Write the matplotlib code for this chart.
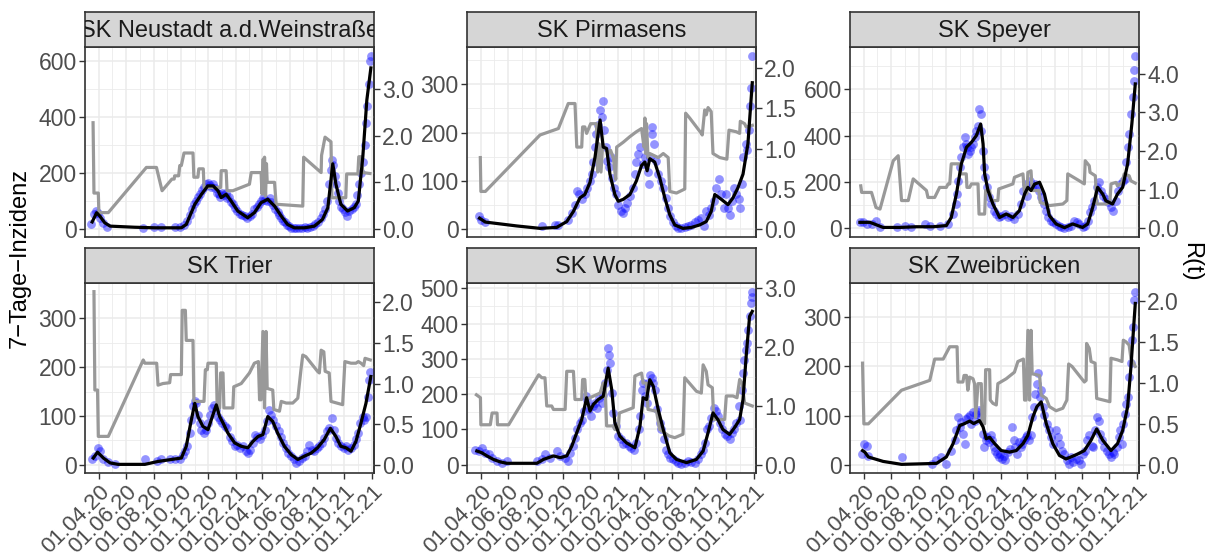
import numpy as np
import matplotlib
matplotlib.use("Agg")
import matplotlib.pyplot as plt
import matplotlib.dates as mdates
from matplotlib.ticker import FixedLocator, AutoMinorLocator, FuncFormatter

plt.rcParams['font.family'] = ['Liberation Sans', 'DejaVu Sans']

# x = Tage ab 01.03.2020; Punkte/Linie = 7-Tage-Inzidenz, r = R(t)
K = 500 / 3  # R(t) * K -> Inzidenz-Achse

titles = ["SK Neustadt a.d.Weinstraße", "SK Pirmasens", "SK Speyer",
          "SK Trier", "SK Worms", "SK Zweibrücken"]

neustadt_pts = [(14,16),(20,52),(24,64),(28,58),(33,40),(40,22),(48,8),
    (130,4),(155,6),(170,8),(200,8),(212,6),
    (222,14),(228,30),(234,50),(238,70),(243,90),(248,100),(252,115),(257,125),(262,140),(266,150),
    (270,160),(274,165),(278,158),(282,150),(286,160),(290,145),(294,130),(298,125),(302,115),(306,130),
    (310,120),(314,128),(318,110),(322,115),(326,95),(330,90),(335,75),(340,65),(345,55),(350,50),
    (356,45),(362,40),(368,45),(372,55),(378,70),(383,80),(388,90),(392,100),(397,110),(402,105),
    (407,100),(412,110),(416,95),(420,85),(425,70),(430,60),(434,50),(438,40),(442,30),(446,25),
    (450,15),(455,10),(460,5),(466,3),(472,5),(478,2),(485,4),(490,6),(496,4),(502,6),(508,12),
    (514,18),(520,26),(526,40),(531,55),(536,70),(541,100),(545,160),(548,210),(551,245),(554,230),
    (557,190),(560,160),(564,130),(568,100),(572,80),(576,70),(580,60),(585,45),(590,65),(595,70),
    (600,80),(604,90),(608,120),(612,160),(616,200),(620,240),(624,300),(627,380),(630,440),(633,520),
    (636,600),(638,620)]
neustadt_line = [(16,25),(26,58),(33,46),(44,22),(56,10),(111,6),(156,4),(215,4),(226,16),(245,88),
    (260,124),(274,154),(286,154),(297,136),(304,112),(315,124),(326,100),(341,64),(363,40),(378,58),
    (393,94),(408,106),(423,82),(438,46),(452,16),(467,4),(490,4),(512,10),(530,34),(542,76),(553,233),
    (560,160),(571,88),(586,64),(601,76),(610,100),(620,257),(629,461),(638,576)]
neustadt_r = [(18,2.28),(20,0.77),(29.7,0.77),(31,0.35),(52,0.35),(137,1.32),(159.5,1.32),(172,0.82),
    (194,1.07),(199,1.07),(200,1.14),(209,1.14),(211.5,1.36),(215,1.36),(221,1.63),(241,1.63),(243,1.11),
    (252,1.11),(254,1.29),(264,1.29),(265.6,0.89),(302.7,0.89),(304,1.25),(315,1.25),(317,0.82),(330,0.82),
    (367,0.96),(371,1.21),(393,1.21),(395,0.75),(397.7,1.5),(399,0.75),(400.7,1.54),(403,0.7),(405,1.4),
    (406.6,1.0),(423,1.0),(426.6,0.53),(486,0.49),(488,1.54),(527,1.21),(528,1.58),(535.7,1.97),(549,1.87),
    (551,0.67),(582,0.67),(584,1.18),(609,1.18),(611,1.55),(617,1.55),(620,1.21),(636,1.19)]

pirmasens_pts = [(26,27),(31,20),(41,15),(167,6),(197,9),(204,8),(226,20),(234,34),(241,51),(246,79),
    (250,72),(256,62),(263,72),(268.6,86),(274.5,100),(278,114),(282,139),(285.7,170),(289,198),(293,216),
    (297,247),(300.5,233),(304,265),(305.7,205),(310,170),(313,142),(317.6,128),(320.5,149),(324,107),
    (328,86),(332,72),(337.6,51),(343,37),(348.7,34),(352.5,44),(356,55),(363.6,69),(369.5,86),(374.7,114),
    (378,139),(382,156),(386,170),(392,135),(397,149),(404,118),(406.6,93),(408,149),(412,198),(414,212),
    (417,177),(421.5,142),(426.7,114),(432,100),(438,86),(443.7,65),(449,44),(454,27),(460,16),(466,6),
    (471,2),(478.6,2),(486,4),(493,6),(501,9),(508,16),(515.7,20),(523,23),(528,6),(534,37),(540,30),
    (545,44),(550.6,58),(556.5,86),(562,104),(567.6,72),(573,44),(577,72),(582.5,44),(587.7,30),(592,58),
    (597,86),(601,72),(607,62),(610,44),(614,93),(617,149),(622,177),(625,163),(629,205),(632,254),
    (634,293),(636.7,359)]
pirmasens_line = [(28,23),(41,15),(111,7),(163,2),(200,4),(222.6,16),(237.5,37),(252,65),(263,72),
    (274.5,97),(285.7,149),(297,226),(304,170),(311.6,167),(319,114),(330,72),(337.6,58),(348.7,62),
    (363.6,72),(378,100),(389.6,132),(397,139),(402,121),(408,146),(419,139),(430,107),(441.5,65),
    (452.6,30),(463.7,9),(482,2),(501,4),(519,9),(534,16),(545,37),(553,72),(567.6,62),(582.5,51),
    (593.6,65),(604.7,86),(616,114),(627,177),(636.7,303)]
pirmasens_r = [(29.7,0.89),(31,0.47),(41,0.47),(163,1.17),(204,1.25),(226,1.56),(241,1.56),(245,1.02),
    (256,1.02),(258,1.27),(263,1.27),(267,1.19),(276,1.31),(289,1.31),(291.6,0.71),(295,1.06),(299,0.71),
    (303,1.06),(308,1.02),(315,0.94),(320.5,0.98),(326.5,0.89),(332,0.62),(334,1.02),(348.7,1.08),
    (363.6,1.15),(378,1.21),(389.6,1.25),(395,1.02),(397,1.38),(399,0.94),(400.7,1.31),(404,0.89),
    (408,0.94),(426.7,0.89),(438,0.94),(449,0.89),(452.6,0.47),(467.5,0.45),(486,0.50),(488,1.44),
    (497,1.38),(523,1.19),(525,1.17),(530.5,1.48),(534,1.42),(538,1.51),(545,1.46),(549,0.94),(564,0.89),
    (580,0.87),(584.7,1.23),(601,1.21),(608.5,1.19),(610,1.34),(619.6,1.31),(623,1.27),(636.7,1.29)]

speyer_pts = [(22,26),(30,26),(37,19),(48,19),(59,33),(67,4),
    (104,4),(122,12),(137,4),(167,19),(178,12),(200,12),(219,19),
    (230,62),(236,105),(239,148),(242,206),(245,263),(248.5,306),(252,350),(256,393),(258,364),(261,350),
    (264,321),(267,335),(271,350),(274.5,364),(278,393),(282,422),(285.7,443),(289,515),(291.6,494),
    (293,422),(297,335),(299,263),(302,220),(305.7,177),(310,134),(315,105),(320.5,76),(326.5,62),(332,47),
    (338,55),(345,62),(352.5,47),(360,55),(367,40),(374.7,62),(382,105),(387,163),(392,191),(395.5,141),
    (400.7,206),(406.6,177),(412,191),(415.6,184),(421.5,163),(426.7,134),(432,105),(438,76),(443,47),
    (449,33),(454,26),(460,19),(466,12),(472,4),(478.6,0),(486,4),(493,12),(501,33),(506,26),(512,19),
    (519,4),(525,12),(530.5,33),(535.7,69),(540,91),(545,119),(550.6,177),(555,199),(560,163),(565,141),
    (571,127),(576.5,112),(582.5,91),(587.7,76),(593.6,119),(598.8,163),(603,191),(608.5,206),(613,213),
    (617,285),(620,350),(623,407),(627,494),(630.7,566),(633,637),(634,681),(636.7,745)]
speyer_line = [(22,26),(44.5,26),(74,4),(111,4),(148,7),(185.5,7),(215,12),(226,47),(237.5,148),
    (248.5,278),(260,350),(271,371),(282,400),(291.6,450),(297,364),(300.5,235),(308,163),(319,105),
    (334,47),(348.7,62),(363.6,47),(378,76),(389.6,148),(397,177),(404,163),(412,191),(423,199),(434,148),
    (445,55),(460,19),(478.6,3),(497,19),(519,4),(530.5,19),(541.7,91),(552.8,177),(564,148),(571,119),
    (586,105),(597,148),(608.5,177),(619.6,278),(629,450),(636.7,623)]
speyer_r = [(24,1.10),(26,0.93),(48,0.93),(58,0.54),(67,0.50),(96.5,1.75),(107.6,1.88),(115,0.72),
    (130,0.72),(141,1.28),(170.6,0.98),(174,0.80),(189,0.80),(200,1.06),(215,1.06),(219,1.15),(222.6,1.15),
    (226,1.67),(245,1.67),(247,1.41),(259.5,1.41),(261,1.06),(267,1.06),(271,1.15),(285.7,1.15),(288,0.37),
    (300.5,0.37),(302.7,0.98),(311.6,0.98),(315,0.72),(330,0.72),(332,1.02),(363.6,1.15),(367,1.32),
    (386,1.41),(389.6,0.89),(394.7,0.89),(397,1.45),(404,1.49),(406.6,0.98),(421.5,0.98),(424.5,0.67),
    (445,0.59),(475,0.63),(484,0.72),(486,1.41),(512,1.23),(523,1.15),(525,1.75),(534,1.62),(535.7,1.45),
    (547.6,1.36),(550.6,0.63),(571,0.63),(580,0.67),(582.5,1.15),(593.6,1.19),(597,1.10),(607,1.19),
    (612,1.41),(623,1.36),(627,1.23),(636.7,1.17)]

trier_pts = [(15,11),(22,18),(30,35),(33,28),(41,11),(52,5),(67,1),
    (133.6,11),(160,7),(170.6,11),(189,11),(200,12),(211.5,11),
    (219,21),(222.6,28),(228.5,38),(234,65),(237.5,92),(241,120),(245,130),(248.5,126),(252,103),(256,86),
    (260,72),(265,65),(270,72),(274.5,86),(280,103),(284,116),(289,123),(293,113),(297,99),(302,92),
    (306.5,86),(311.6,79),(317,75),(322.8,58),(328,48),(334,38),(340,41),(346,35),(352.5,38),(358.4,28),
    (363.6,24),(369,31),(374.7,45),(380,62),(384,58),(389.6,52),(394.7,62),(400.7,72),(406,89),(410,113),
    (415.6,103),(420.7,92),(426.7,79),(432,69),(438,58),(443,45),(449,35),(454,24),(460,18),(466,11),
    (472,4),(478.6,7),(484,14),(490,18),(496,28),(501,41),(507,31),(512,28),(518,35),(523,38),(529,45),
    (534,55),(540,69),(545,75),(550.6,96),(555,72),(560,55),(565,45),(571,38),(577,35),(582.5,38),
    (587.7,31),(593.6,35),(599.5,41),(604.7,52),(610,65),(614,86),(619.6,99),(623,92),(627,99),
    (630.7,140),(634,174),(636.7,191)]
trier_line = [(18.5,14),(28,26),(41,14),(56,4),(74,1),(133.6,1),(163,7),(193,11),(215,14),(226,38),
    (236,86),(245,126),(252,99),(263,79),(274.5,72),(285.7,103),(293,123),(300.5,99),(308,86),(319,65),
    (334,45),(348.7,38),(363.6,35),(374.7,48),(386,58),(397,62),(408,99),(419,89),(430,65),(445,38),
    (460,21),(475,11),(490,18),(504.6,24),(519,35),(534,52),(547.6,75),(560,58),(571,38),(582.5,35),
    (593.6,28),(604.7,48),(616,86),(627,126),(638,181)]
trier_r = [(20,2.13),(22,0.92),(28,0.92),(29.7,0.35),(52,0.35),(130,1.29),(133.6,1.25),(160,1.25),
    (163,0.98),(174,1.00),(189,1.01),(191,1.11),(215,1.11),(217,1.90),(224,1.90),(226,1.53),(241,1.53),
    (243,0.78),(265.6,0.78),(268.6,1.17),(273,1.17),(274.5,1.25),(293,1.25),(295,0.70),(300.5,0.70),
    (302.7,1.13),(308,1.13),(310,0.70),(330,0.70),(332,0.96),(348.7,1.00),(367,1.13),(378,1.25),(387,1.27),
    (389.6,0.80),(393,0.80),(397,1.64),(400.7,0.70),(404,1.64),(406.6,0.94),(419,0.92),(421.5,0.68),
    (434,0.66),(438,0.78),(449,0.76),(463.7,0.76),(475,0.82),(482,1.17),(486,1.35),(493,1.33),(519,1.15),
    (523,1.13),(527,1.41),(533,1.39),(536,1.15),(545,1.13),(549,0.78),(575,0.74),(580,1.27),(593.6,1.25),
    (604.7,1.25),(610,1.27),(616,1.25),(622,1.22),(625,1.31),(636.7,1.29)]

worms_pts = [(18.5,43),(26,39),(33,48),(41,34),(48,29),(56,20),(67,10),(78,6),(89,10),
    (156,10),(167,15),(174,29),(185.5,20),(200,39),(208,25),(219,20),(226,10),
    (230,34),(236,53),(241,76),(246,100),(252,119),(257,128),(261,152),(265,194),(268.6,185),(272,157),
    (276,138),(280.5,166),(285.7,175),(291,161),(295,190),(300.5,175),(304,199),(308,232),(311.6,270),
    (315,331),(317.6,312),(319,289),(323,204),(326.5,147),(331.7,109),(337.6,81),(343.5,72),(348.7,58),
    (354.7,62),(361,53),(367,48),(373,43),(378,62),(383.6,100),(387,138),(390,213),(393,232),(397,194),
    (400.7,175),(404,232),(408,255),(412,246),(415.6,232),(419,213),(424.5,157),(430,119),(434,100),
    (439,72),(443.7,43),(449,29),(454,20),(460,15),(466,10),(472,6),(478.6,1),(486,6),(493,10),(501,8),
    (508,6),(515.7,15),(521.6,29),(527,43),(532,62),(536,100),(540,109),(545,133),(550.6,161),(555,152),
    (560,138),(565,119),(570,100),(575,86),(580,81),(586,72),(592,91),(597,100),(601,119),(606,166),
    (610,128),(613,213),(616,260),(618,298),(622,326),(625,345),(628,383),(630.7,421),(633,458),
    (635,477),(636.7,491)]
worms_line = [(22,39),(33,34),(44.5,25),(59,15),(74,8),(89,4),(156,4),(170.6,15),(193,25),(208,20),
    (222.6,25),(234,53),(245,91),(256,128),(267,190),(274.5,152),(282,171),(293,185),(304,194),(315,274),
    (323,213),(330,119),(341,81),(356,62),(374.7,48),(386,109),(393,190),(400.7,185),(408,241),(415.6,223),
    (426.7,157),(438,100),(452.6,34),(467.5,15),(490,6),(512,15),(527,39),(538,91),(549,147),(560,128),
    (571,100),(586,86),(597,105),(608.5,128),(616,185),(623,307),(630.7,421),(636.7,435)]
worms_r = [(21,1.19),(30,1.14),(31,0.68),(52,0.68),(56,0.88),(67,0.88),(68,0.68),(93,0.68),(160,1.53),
    (167,1.48),(174,1.48),(178,1.0),(189,1.0),(193,0.94),(219,0.94),(222.6,1.59),(237.5,1.59),(241,1.11),
    (256,1.11),(258,1.45),(263,1.45),(265.6,1.11),(297,1.22),(304,1.39),(308,1.39),(311.6,0.66),
    (326.5,0.66),(330,0.60),(337.6,0.60),(340,0.88),(371,0.97),(374.7,1.51),(389.6,1.56),(393,1.39),
    (400.7,1.39),(404,0.94),(423,0.91),(430,0.60),(441.5,0.54),(451,0.49),(463.7,0.46),(482,0.52),
    (486,1.48),(512,1.25),(523,1.22),(527,1.70),(534,1.59),(538,1.36),(547.6,1.31),(550.6,0.77),
    (575,0.77),(578.7,1.17),(593.6,1.17),(602.6,1.14),(608.5,1.45),(614,1.39),(619.6,1.05),(636.7,1.0)]

zweibruecken_pts = [(26,22),(31,43),(37,39),(41,19),
    (115,16),(182,2),(193,9),(204,16),(215,2),
    (226,29),(234,50),(237.5,70),(241,97),(245,77),(248.5,87),(252,63),(256,43),(260,94),(263,97),(267,101),
    (271,84),(274.5,107),(278,90),(282,104),(285.7,107),(289,111),(293,97),(297,63),(299,36),(302.7,50),
    (306.5,56),(310,46),(314,60),(317.6,50),(320.5,36),(324,29),(328,22),(331.7,16),(335,22),(340,12),
    (343.5,19),(347,9),(352.5,26),(357.6,33),(361,77),(365,50),(369,36),(373,22),(377,46),(380.6,36),
    (384,43),(388,50),(392,56),(395.5,60),(399,50),(403,60),(406.6,97),(410,118),(414,145),(417,165),
    (419,186),(423,138),(426.7,152),(430,118),(434,101),(439,84),(443.7,70),(449,56),(454,43),(460,70),
    (463.7,56),(469,43),(473,29),(478.6,22),(484,9),(488,2),(493,16),(498.6,5),(504.6,12),(510,9),
    (515.7,2),(521,22),(525,29),(530,50),(534,60),(539,39),(543,36),(547.6,70),(552,97),(555,90),(558,63),
    (562.5,50),(567.6,36),(573,29),(577,22),(582.5,16),(586,26),(590,22),(595,36),(599.5,56),(602.6,70),
    (607,43),(610,84),(613,104),(616,124),(619.6,138),(623,179),(627,206),(629,254),(632,281),(634,335),
    (636.7,352)]
zweibruecken_line = [(28,29),(33,26),(41,16),(74,7),(115,1),(156,2),(193,3),(215,16),(230,43),(245,80),
    (256,84),(267,89),(276,84),(289,90),(297,77),(304,53),(311.6,56),(323,43),(337.6,29),(356,26),(371,29),
    (386,43),(397,60),(408,97),(417,118),(426.7,128),(438,84),(452.6,43),(467.5,19),(482,12),(493,16),
    (508,22),(523,29),(538,50),(550.6,73),(564,50),(582.5,29),(597,43),(608.5,70),(619.6,118),(627,199),
    (636.7,328)]
zweibruecken_r = [(28,1.24),(31,0.50),(41,0.50),(115,0.91),(178,1.03),(189,1.29),(208,1.29),(222.6,1.44),
    (239,1.44),(241,1.01),(252,1.01),(254.5,1.09),(260,1.09),(263,0.91),(267,1.07),(274.5,1.05),(278,0.99),
    (280.5,0.58),(285.7,0.99),(293,0.99),(295,0.50),(300.5,0.50),(302.7,1.16),(311.6,1.16),(313,0.79),
    (319,0.75),(326.5,0.73),(330,0.99),(348.7,1.05),(367,1.13),(374.7,1.26),(387,1.29),(389.6,0.79),
    (393,0.79),(397,1.64),(400.7,0.79),(404,1.64),(406.6,1.11),(423,1.09),(426.7,0.85),(438,0.81),
    (445,0.71),(460,0.66),(475,0.69),(484,0.79),(488,1.23),(495.5,1.20),(523,1.01),(527,1.03),(528,1.48),
    (534,1.42),(538,1.26),(547,1.24),(550.6,0.81),(580,0.77),(582.5,1.30),(597,1.28),(607,1.26),(610,1.52),
    (616,1.50),(623,1.46),(627,1.30),(636.7,1.20)]

pts_all = [neustadt_pts, pirmasens_pts, speyer_pts, trier_pts, worms_pts, zweibruecken_pts]
lines_all = [neustadt_line, pirmasens_line, speyer_line, trier_line, worms_line, zweibruecken_line]
r_all = [neustadt_r, pirmasens_r, speyer_r, trier_r, worms_r, zweibruecken_r]

left_ticks = [[0, 200, 400, 600], [0, 100, 200, 300], [0, 200, 400, 600],
              [0, 100, 200, 300], [0, 100, 200, 300, 400, 500], [0, 100, 200, 300]]
right_ticks = [[0, 1, 2, 3], [0, 0.5, 1, 1.5, 2], [0, 1, 2, 3, 4],
               [0, 0.5, 1, 1.5, 2], [0, 1, 2, 3], [0, 0.5, 1, 1.5, 2]]

W, H = 1209, 556
fig = plt.figure(figsize=(W / 100, H / 100), dpi=100)

col_x = [85, 467, 850]
row_top = [47, 283]
pw, ph, sh = 289, 190, 35
base = mdates.date2num(np.datetime64("2020-03-01"))
dark = "#333333"
lab = "#4D4D4D"
tsize = 16.5

for i in range(6):
    r, c = divmod(i, 3)
    ax = fig.add_axes([col_x[c] / W, 1 - (row_top[r] + ph) / H, pw / W, ph / H])
    px, py = np.array(pts_all[i], dtype=float).T
    lx, ly = np.array(lines_all[i], dtype=float).T
    rx, rv = np.array(r_all[i], dtype=float).T

    ax.scatter(base + px, py, s=40, color="#0000FF", alpha=0.42, linewidths=0, zorder=2)
    ax.plot(base + rx, rv * K, color="#999999", lw=2.3, zorder=3)
    ax.plot(base + lx, ly, color="black", lw=2.3, zorder=4)

    allv = np.concatenate([py, ly, rv * K])
    lo, hi = allv.min(), allv.max()
    pad = 0.05 * (hi - lo)
    ax.set_ylim(lo - pad, hi + pad)
    ax.set_xlim(base, base + 645)

    ax.set_axisbelow(True)
    ax.yaxis.set_major_locator(FixedLocator(left_ticks[i]))
    ax.yaxis.set_minor_locator(AutoMinorLocator(2))
    ax.xaxis.set_major_locator(mdates.MonthLocator(bymonth=(2, 4, 6, 8, 10, 12)))
    ax.xaxis.set_minor_locator(mdates.MonthLocator())
    ax.xaxis.set_major_formatter(mdates.DateFormatter("%d.%m.%y"))
    ax.grid(which="major", color="#EBEBEB", lw=1.1)
    ax.grid(which="minor", color="#EBEBEB", lw=0.6)
    for sp in ax.spines.values():
        sp.set_color(dark)
        sp.set_linewidth(1.2)
    ax.tick_params(which="major", length=4, width=1.0, color=dark, labelcolor=lab,
                   labelsize=tsize, pad=2)
    ax.tick_params(which="minor", length=0)
    if r == 0:
        ax.tick_params(axis="x", which="major", length=0, labelbottom=False)
    else:
        ax.tick_params(axis="x", labelsize=16)
        for t in ax.get_xticklabels():
            t.set_rotation(45)
            t.set_ha("right")
            t.set_va("top")
            t.set_rotation_mode("anchor")

    sec = ax.secondary_yaxis("right", functions=(lambda v: v / K, lambda v: v * K))
    sec.set_yticks(right_ticks[i])
    sec.yaxis.set_major_formatter(FuncFormatter(lambda v, p: f"{v:.1f}"))
    sec.tick_params(length=4, width=1.0, color=dark, labelcolor=lab, labelsize=tsize, pad=2)
    sec.spines["right"].set_color(dark)
    sec.spines["right"].set_linewidth(1.2)

    sax = fig.add_axes([col_x[c] / W, 1 - row_top[r] / H, pw / W, sh / H])
    sax.set_facecolor("#D6D6D6")
    sax.set_xticks([])
    sax.set_yticks([])
    for sp in sax.spines.values():
        sp.set_color(dark)
        sp.set_linewidth(1.2)
    sax.text(0.5, 0.47, titles[i], ha="center", va="center", fontsize=17,
             color="#1A1A1A", transform=sax.transAxes, clip_on=True)

fig.text(20 / W, 1 - 258 / H, "7−Tage−Inzidenz", rotation=90, ha="center", va="center",
         fontsize=17, color="black")
fig.text(1191 / W, 1 - 262 / H, "R(t)", rotation=-90, ha="center", va="center",
         fontsize=17, color="black")

fig.savefig("out.png", dpi=100)
